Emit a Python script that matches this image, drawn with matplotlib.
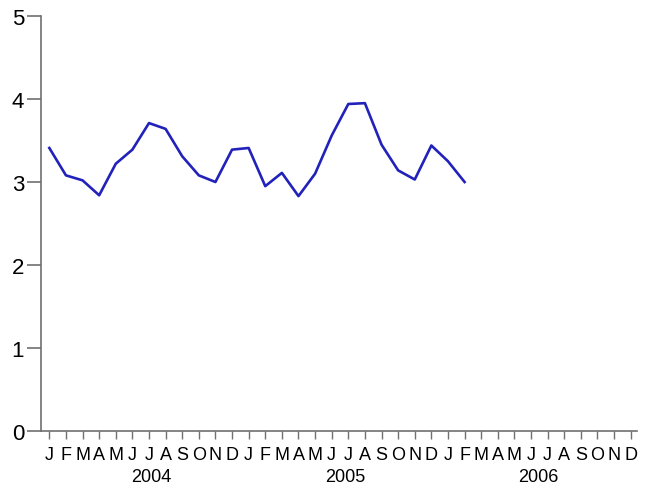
import matplotlib
matplotlib.use("Agg")
import matplotlib.pyplot as plt
from matplotlib import transforms

plt.rcParams['font.family'] = ['Liberation Sans', 'DejaVu Sans']

month_letters = ["J", "F", "M", "A", "M", "J", "J", "A", "S", "O", "N", "D"]
years = ["2004", "2005", "2006"]
year_label_pos = [6.14, 17.84, 29.46]

# Monthly values, Jan 2004 .. Feb 2006
values = [3.41, 3.08, 3.02, 2.84, 3.22, 3.39, 3.71, 3.64, 3.31, 3.08, 3.00, 3.39,
          3.41, 2.95, 3.11, 2.83, 3.10, 3.56, 3.94, 3.95, 3.45, 3.14, 3.03, 3.44,
          3.25, 3.00]

n_months = 12 * len(years)

fig = plt.figure(figsize=(6.49, 4.89), dpi=100)
ax = fig.add_axes([0.0627, 0.1166, 0.9815 - 0.0627, 0.9652 - 0.1166])

ax.plot(range(len(values)), values, color="#2222bb", linewidth=1.9)

ax.set_xlim(-0.52, 35.38)
ax.set_ylim(0, 5)

for s in ["top", "right"]:
    ax.spines[s].set_visible(False)
for s in ["left", "bottom"]:
    ax.spines[s].set_color("#707070")
    ax.spines[s].set_linewidth(1.2)

ax.set_yticks([0, 1, 2, 3, 4, 5])
ax.tick_params(axis="y", direction="out", length=10, width=1.2, color="#707070",
               labelsize=16, pad=2)
ax.set_xticks(range(n_months))
ax.set_xticklabels(month_letters * len(years))
ax.tick_params(axis="x", direction="out", length=5.5, width=1.0, color="#707070",
               labelsize=13, pad=5)

trans = transforms.blended_transform_factory(ax.transData, fig.transFigure)
for pos, yr in zip(year_label_pos, years):
    ax.text(pos, 1 - 477.7 / 489, yr, transform=trans, ha="center", va="center",
            fontsize=13)

fig.savefig("out.png", dpi=100)
